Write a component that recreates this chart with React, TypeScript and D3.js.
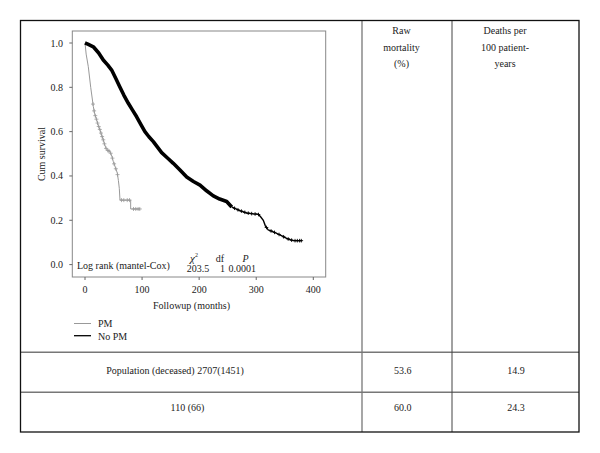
import React from "react";
import * as d3 from "d3";

// No PM survival curve (months, cumulative survival)
const noPmTime = [0, 5, 14.6, 24, 32, 40, 46.7, 54, 61.3, 68, 75.9, 83, 90.5, 98, 105, 112, 119.7, 127, 134.3, 145, 154.7, 166, 178.2, 190, 201.5, 213, 224.8, 236, 248.2, 257, 270, 283.2, 295, 303.6, 308, 312.4, 316, 321.1, 328, 335.8, 345, 353.3, 360, 365, 379.7];
const noPmSurv = [1.0, 0.995, 0.983, 0.955, 0.923, 0.9, 0.878, 0.84, 0.8, 0.765, 0.728, 0.698, 0.667, 0.632, 0.6, 0.577, 0.555, 0.53, 0.505, 0.48, 0.457, 0.428, 0.395, 0.375, 0.359, 0.333, 0.31, 0.296, 0.285, 0.26, 0.245, 0.233, 0.229, 0.227, 0.215, 0.2, 0.175, 0.156, 0.15, 0.141, 0.13, 0.118, 0.112, 0.108, 0.108];
const noPmCensor = [250, 255, 262, 268, 274, 280, 286, 292, 298, 304, 318, 326, 332, 340, 348, 356, 362, 368, 372, 376, 379];

// PM survival curve
const pmTime = [0, 2, 5.8, 10, 14.6, 17, 20.4, 23, 26.3, 29, 32, 34, 36.8, 40, 43.8, 47, 49.6, 53, 56.6, 58.5, 60.1, 61.3, 80, 80, 96.4];
const pmSurv = [1.0, 0.95, 0.893, 0.8, 0.713, 0.68, 0.653, 0.63, 0.608, 0.585, 0.563, 0.545, 0.525, 0.515, 0.51, 0.49, 0.465, 0.44, 0.413, 0.38, 0.344, 0.291, 0.291, 0.251, 0.251];
const pmCensor = [14, 16, 18, 20, 22, 24, 26, 28, 30, 32, 34, 37, 40, 42, 45, 48, 51, 54, 57, 64, 68, 74, 78, 85, 89, 93, 96];

const xTicks = [0, 100, 200, 300, 400];
const yTicks = [0.0, 0.2, 0.4, 0.6, 0.8, 1.0];

const headerRaw = ["Raw", "mortality", "(%)"];
const headerDeaths = ["Deaths per", "100 patient-", "years"];
const rowLabels = ["Population (deceased) 2707(1451)", "110 (66)"];
const rawMortality = ["53.6", "60.0"];
const deathsPer100 = ["14.9", "24.3"];

const FONT = "'Liberation Serif', 'DejaVu Serif', serif";

function linValue(times: number[], surv: number[], t: number) {
  for (let i = 1; i < times.length; i++) {
    if (t <= times[i]) {
      const span = times[i] - times[i - 1];
      if (span === 0) return surv[i - 1];
      const f = (t - times[i - 1]) / span;
      return surv[i - 1] + f * (surv[i] - surv[i - 1]);
    }
  }
  return surv[surv.length - 1];
}

export default function App() {
  const frame = { left: 72.3, right: 325.7, top: 31, bottom: 277 };
  const x = d3.scaleLinear().domain([0, 400]).range([85, 313.3]);
  const y = d3.scaleLinear().domain([0, 1]).range([264.6, 43]);

  const noPm = noPmTime.map((t, i) => [t, noPmSurv[i]] as [number, number]);
  const pm = pmTime.map((t, i) => [t, pmSurv[i]] as [number, number]);
  const splitIdx = noPmTime.findIndex((t) => t >= 257);
  const noPmHead = noPm.slice(0, splitIdx + 1);
  const noPmTail = noPm.slice(splitIdx);

  const lineLin = d3.line<[number, number]>().x((d) => x(d[0])).y((d) => y(d[1]));

  const cross = (cx: number, cy: number, s: number, color: string, key: string, w: number) => (
    <g key={key} stroke={color} strokeWidth={w}>
      <line x1={cx - s} x2={cx + s} y1={cy} y2={cy} />
      <line x1={cx} x2={cx} y1={cy - s} y2={cy + s} />
    </g>
  );

  const tableLeft = 20.5;
  const tableRight = 579;
  const tableTop = 20.5;
  const tableBottom = 432;
  const col1 = 362;
  const col2 = 452;
  const row1 = 352.3;
  const row2 = 392.3;

  return (
    <svg
      width={600}
      height={453}
      style={{ position: "absolute", left: 0, top: 0, background: "#fff" }}
      fontFamily={FONT}
    >
      <rect x={0} y={0} width={600} height={453} fill="#fff" />
      {/* table lines */}
      <line x1={tableLeft} x2={tableRight} y1={row1} y2={row1} stroke="#777" strokeWidth={1.5} />
      <line x1={tableLeft} x2={tableRight} y1={row2} y2={row2} stroke="#777" strokeWidth={1.5} />
      <line x1={col1} x2={col1} y1={tableTop} y2={tableBottom} stroke="#777" strokeWidth={1.3} />
      <line x1={col2} x2={col2} y1={tableTop} y2={tableBottom} stroke="#444" strokeWidth={1} />
      <rect
        x={tableLeft}
        y={tableTop}
        width={tableRight - tableLeft}
        height={tableBottom - tableTop}
        fill="none"
        stroke="#111"
        strokeWidth={1.3}
      />

      {/* headers */}
      {headerRaw.map((t, i) => (
        <text key={"hr" + i} x={401.5} y={34 + i * 16.5} textAnchor="middle" fontSize={10} fill="#222">
          {t}
        </text>
      ))}
      {headerDeaths.map((t, i) => (
        <text key={"hd" + i} x={505} y={34 + i * 16.5} textAnchor="middle" fontSize={10} fill="#222">
          {t}
        </text>
      ))}

      {/* table rows */}
      {rowLabels.map((t, i) => (
        <text key={"rl" + i} x={i === 0 ? 175 : 187.5} y={373.5 + i * 37} textAnchor="middle" fontSize={10} fill="#222">
          {t}
        </text>
      ))}
      {rawMortality.map((t, i) => (
        <text key={"rm" + i} x={402.7} y={373.5 + i * 37} textAnchor="middle" fontSize={10} fill="#222">
          {t}
        </text>
      ))}
      {deathsPer100.map((t, i) => (
        <text key={"dp" + i} x={516} y={373.5 + i * 37} textAnchor="middle" fontSize={10} fill="#222">
          {t}
        </text>
      ))}

      {/* plot frame */}
      <rect
        x={frame.left}
        y={frame.top}
        width={frame.right - frame.left}
        height={frame.bottom - frame.top}
        fill="none"
        stroke="#888"
        strokeWidth={1}
      />
      {yTicks.map((v) => (
        <g key={"yt" + v}>
          <line x1={frame.left - 3} x2={frame.left} y1={y(v)} y2={y(v)} stroke="#666" />
          <text x={63} y={y(v) + 3.5} textAnchor="end" fontSize={10} fill="#222">
            {d3.format(".1f")(v)}
          </text>
        </g>
      ))}
      {xTicks.map((v) => (
        <g key={"xt" + v}>
          <line x1={x(v)} x2={x(v)} y1={frame.bottom} y2={frame.bottom + 3} stroke="#666" />
          <text x={x(v)} y={292.5} textAnchor="middle" fontSize={10} fill="#222">
            {v}
          </text>
        </g>
      ))}
      <text x={191.5} y={308.5} textAnchor="middle" fontSize={10} fill="#222">
        Followup (months)
      </text>
      <text
        transform={`translate(44.5,154) rotate(-90)`}
        textAnchor="middle"
        fontSize={10}
        fill="#222"
      >
        Cum survival
      </text>

      {/* curves */}
      <path d={lineLin(pm) || ""} fill="none" stroke="#999" strokeWidth={1} />
      {pmCensor.map((t, i) => cross(x(t), y(linValue(pmTime, pmSurv, t)), 2, "#999", "pc" + i, 0.8))}
      <path d={lineLin(noPmHead) || ""} fill="none" stroke="#000" strokeWidth={3.6} strokeLinejoin="round" />
      <path d={lineLin(noPmTail) || ""} fill="none" stroke="#000" strokeWidth={1.4} />
      {noPmCensor.map((t, i) => cross(x(t), y(linValue(noPmTime, noPmSurv, t)), 1.8, "#000", "nc" + i, 0.9))}

      {/* log rank annotation */}
      <text x={77} y={268.5} fontSize={10} fill="#222">
        Log rank (mantel-Cox)
      </text>
      <text x={194} y={262} textAnchor="middle" fontSize={11} fontStyle="italic" fill="#222">
        χ
        <tspan fontSize={6} dy={-5} fontStyle="normal">2</tspan>
      </text>
      <text x={220} y={262} textAnchor="middle" fontSize={10} fill="#222">df</text>
      <text x={245.5} y={262} textAnchor="middle" fontSize={10} fontStyle="italic" fill="#222">P</text>
      <text x={198} y={271.5} textAnchor="middle" fontSize={10} fill="#222">203.5</text>
      <text x={222.5} y={271.5} textAnchor="middle" fontSize={10} fill="#222">1</text>
      <text x={242.3} y={271.5} textAnchor="middle" fontSize={10} fill="#222">0.0001</text>

      {/* legend */}
      <line x1={74} x2={91} y1={323.5} y2={323.5} stroke="#999" strokeWidth={1} />
      <text x={98} y={327} fontSize={10} fill="#222">PM</text>
      <line x1={74} x2={91} y1={335.7} y2={335.7} stroke="#000" strokeWidth={1.3} />
      <text x={98} y={339.5} fontSize={10} fill="#222">No PM</text>
    </svg>
  );
}
